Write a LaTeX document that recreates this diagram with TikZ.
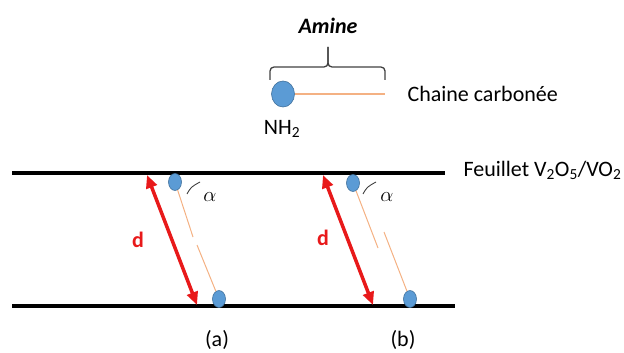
\documentclass[tikz,border=0pt]{standalone}
\usepackage{fontspec}
\setmainfont{Carlito}
\usepackage{amsmath}
\usetikzlibrary{arrows.meta,shapes.geometric}
\definecolor{ballblue}{HTML}{5B9BD5}
\definecolor{balledge}{HTML}{41719C}
\definecolor{chainorange}{HTML}{F4B183}
\definecolor{arrowred}{HTML}{E8191A}
\definecolor{bracegray}{HTML}{404040}

\begin{document}
\begin{tikzpicture}[x=1pt,y=-1pt,
    every node/.style={font=\fontsize{22}{26}\selectfont},
    head/.style={ellipse,fill=ballblue,draw=balledge,line width=0.6pt,inner sep=0pt,minimum width=13pt,minimum height=17pt},
    chain/.style={chainorange,line width=1pt},
    layer/.style={black,line width=3.3pt},
    dist/.style={arrowred,line width=3.5pt,{Triangle[length=13pt,width=11pt]}-{Triangle[length=13pt,width=11pt]}},
    anglemark/.style={bracegray,line width=0.9pt}]
  \useasboundingbox (0,0) rectangle (624,353);
  % amine
  \node (amine) at (328,26) {\textbf{\textit{Amine}}};
  \draw[bracegray,line width=1.3pt,rounded corners=4pt] (270,80) -- (270,67) -- (328,67) -- (328,47);
  \draw[bracegray,line width=1.3pt,rounded corners=4pt] (385,80) -- (385,67) -- (328,67) -- (328,47);
  \node[head,minimum width=23pt,minimum height=26pt] (nh) at (283,94) {};
  \coordinate (tail) at (385,94);
  \draw[chain,line width=1.6pt] (nh) -- (tail);
  \node (nhlabel) at (282,129) {NH\textsubscript{2}};
  \node[anchor=west] (chainlabel) at (404,94) {Chaine carbonée};
  % feuillets
  \coordinate (topL) at (12,173);
  \coordinate (topR) at (445,173);
  \coordinate (botL) at (12,306);
  \coordinate (botR) at (455,306);
  \draw[layer] (topL) -- (topR);
  \draw[layer] (botL) -- (botR);
  \node[anchor=west] (feuillet) at (460,170) {Feuillet V\textsubscript{2}O\textsubscript{5}/VO\textsubscript{2}};
  % (a)
  \node[head] (a1) at (175,182) {};
  \node[head] (a2) at (219,299) {};
  \coordinate (a1end) at (193,237);
  \coordinate (a2end) at (197,245);
  \draw[chain] (a1) -- (a1end);
  \draw[chain] (a2) -- (a2end);
  \coordinate (da1) at (147,175);
  \coordinate (da2) at (197,305);
  \draw[dist] (da1) -- (da2);
  \node[arrowred] (dA) at (138,240) {\textbf{d}};
  \draw[anglemark] (187,194) .. controls (191,187) .. (200,182);
  \node (alphaA) at (210,197) {$\alpha$};
  \node (labA) at (217,340) {(a)};
  % (b)
  \node[head] (b1) at (353,183) {};
  \node[head] (b2) at (410,299) {};
  \coordinate (b1end) at (378,248);
  \coordinate (b2end) at (384,232);
  \draw[chain] (b1) -- (b1end);
  \draw[chain] (b2) -- (b2end);
  \coordinate (db1) at (323,175);
  \coordinate (db2) at (373,305);
  \draw[dist] (db1) -- (db2);
  \node[arrowred] (dB) at (323,238) {\textbf{d}};
  \draw[anglemark] (363,194) .. controls (367,187) .. (376,182);
  \node (alphaB) at (387,197) {$\alpha$};
  \node (labB) at (403,340) {(b)};
\end{tikzpicture}
\end{document}
